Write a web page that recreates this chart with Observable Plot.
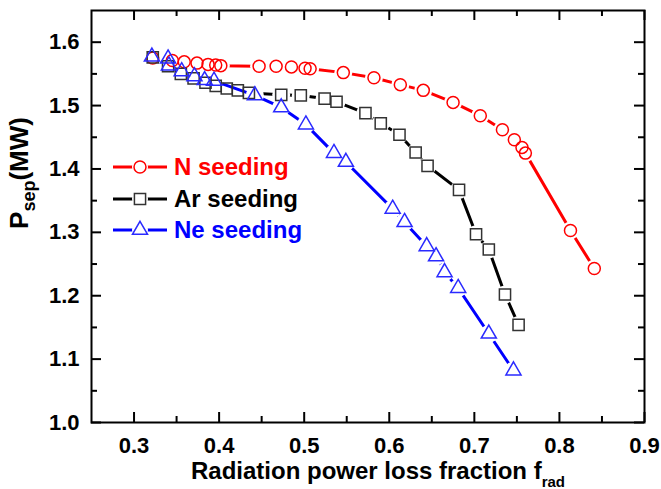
<!DOCTYPE html>
<html><head><meta charset="utf-8">
<script src="https://cdn.jsdelivr.net/npm/d3@7"></script>
<script src="https://cdn.jsdelivr.net/npm/@observablehq/plot@0.6"></script>
<style>body{margin:0;background:#fff}</style>
</head><body><div id="chart"></div>
<script>
// ---- data ----
const nX  = [0.322,0.345,0.359,0.374,0.387,0.396,0.402,0.447,0.467,0.485,0.501,0.507,0.546,0.582,0.613,0.640,0.675,0.707,0.733,0.747,0.756,0.760,0.813,0.841];
const nY  = [1.575,1.571,1.569,1.567,1.565,1.564,1.563,1.562,1.562,1.561,1.559,1.558,1.552,1.544,1.533,1.524,1.505,1.484,1.462,1.446,1.434,1.425,1.303,1.243];
const arX = [0.322,0.340,0.355,0.370,0.384,0.396,0.409,0.422,0.435,0.473,0.496,0.524,0.538,0.572,0.590,0.612,0.631,0.645,0.682,0.702,0.717,0.736,0.752];
const arY = [1.576,1.562,1.550,1.543,1.536,1.531,1.527,1.524,1.520,1.517,1.516,1.511,1.506,1.488,1.472,1.454,1.426,1.405,1.367,1.297,1.273,1.202,1.154];
const neX = [0.321,0.340,0.341,0.356,0.371,0.383,0.394,0.442,0.473,0.502,0.535,0.549,0.604,0.618,0.644,0.655,0.665,0.681,0.717,0.746];
const neY = [1.577,1.574,1.563,1.554,1.546,1.540,1.539,1.516,1.497,1.470,1.425,1.411,1.337,1.316,1.278,1.262,1.237,1.212,1.140,1.082];
const seriesNames = ["N seeding","Ar seeding","Ne seeding"];
const xMajor = [0.3,0.4,0.5,0.6,0.7,0.8,0.9];
const xMinor = [0.35,0.45,0.55,0.65,0.75,0.85];
const yMajor = [1.0,1.1,1.2,1.3,1.4,1.5,1.6];
const yMinor = [1.05,1.15,1.25,1.35,1.45,1.55];

// ---- layout / style ----
const W = 661, H = 489, mL = 91, mR = 17, mT = 10, mB = 67;
const innerW = W - mL - mR, innerH = H - mT - mB;
const FONT = "'Liberation Sans', Arial, Helvetica, sans-serif";
const styles = [
  {line:"#ff0000", stroke:"#ff0000", symbol:"circle",   r:6.0, d3sym:d3.symbolCircle},
  {line:"#000000", stroke:"#333333", symbol:"square",   r:6.3, d3sym:d3.symbolSquare},
  {line:"#0000ff", stroke:"#2a2aff", symbol:"triangle", r:5.6, d3sym:d3.symbolTriangle}
];
const series = [[nX,nY],[arX,arY],[neX,neY]].map(([xs,ys],k) => ({
  name: seriesNames[k], rows: xs.map((x,i)=>({x, y: ys[i]})), ...styles[k]
}));

const marks = [];
for (const s of series) {
  marks.push(Plot.line(s.rows, {x:"x", y:"y", stroke:s.line, strokeWidth:3}));
  marks.push(Plot.dot(s.rows, {x:"x", y:"y", r:9, fill:"white", stroke:"none"}));
}
for (const s of series) {
  marks.push(Plot.dot(s.rows, {x:"x", y:"y", r:s.r, symbol:s.symbol, fill:"none", stroke:s.stroke, strokeWidth:1.5}));
}
const tk = {stroke:"black", strokeWidth:2};
marks.push(
  Plot.ruleX(xMajor, {...tk, insetTop: innerH - 10}),
  Plot.ruleX(xMajor, {...tk, insetBottom: innerH - 10}),
  Plot.ruleX(xMinor, {...tk, insetTop: innerH - 6}),
  Plot.ruleX(xMinor, {...tk, insetBottom: innerH - 6}),
  Plot.ruleY(yMajor, {...tk, insetRight: innerW - 10}),
  Plot.ruleY(yMajor, {...tk, insetLeft: innerW - 10}),
  Plot.ruleY(yMinor, {...tk, insetRight: innerW - 6}),
  Plot.ruleY(yMinor, {...tk, insetLeft: innerW - 6}),
  Plot.frame({stroke:"black", strokeWidth:2}),
  Plot.axisX({ticks:xMajor, tickSize:0, tickPadding:15, tickFormat:".1f", label:null}),
  Plot.axisY({ticks:yMajor, tickSize:0, tickPadding:12, tickFormat:".1f", label:null})
);

const plot = Plot.plot({
  width: W, height: H,
  marginLeft: mL, marginRight: mR, marginTop: mT, marginBottom: mB,
  x: {domain:[0.25, 0.9]},
  y: {domain:[1.0, 1.65]},
  style: {fontFamily: FONT, fontSize: "22px", fontWeight: "bold", color: "black", background: "white", overflow: "visible"},
  marks
});
document.getElementById("chart").appendChild(plot);

// ---- legend and axis titles ----
const svg = d3.select(plot);
const leg = svg.append("g").attr("font-family", FONT).attr("font-weight", "bold");
const rowY = [167, 199, 230];
series.forEach((s, k) => {
  const y = rowY[k];
  leg.append("line").attr("x1", 113).attr("x2", 167).attr("y1", y).attr("y2", y)
    .attr("stroke", s.line).attr("stroke-width", 3);
  leg.append("circle").attr("cx", 140).attr("cy", y).attr("r", 8).attr("fill", "white");
  leg.append("path").attr("transform", `translate(140,${y})`)
    .attr("d", d3.symbol(s.d3sym, Math.PI * s.r * s.r)())
    .attr("fill", "white").attr("stroke", s.stroke).attr("stroke-width", 1.5);
  leg.append("text").attr("x", 174).attr("y", y).attr("dy", "0.35em")
    .attr("text-anchor", "start")
    .attr("font-size", 24).attr("fill", s.line).text(s.name);
});

const xt = svg.append("text").attr("x", 378).attr("y", 479).attr("text-anchor", "middle")
  .attr("font-family", FONT).attr("font-weight", "bold").attr("font-size", 24).attr("fill", "black");
xt.append("tspan").text("Radiation power loss fraction f");
xt.append("tspan").attr("font-size", 15).attr("dy", 8).text("rad");

const yt = svg.append("text").attr("transform", "translate(28,173) rotate(-90)").attr("text-anchor", "middle")
  .attr("font-family", FONT).attr("font-weight", "bold").attr("font-size", 26).attr("fill", "black");
yt.append("tspan").text("P");
yt.append("tspan").attr("font-size", 18).attr("dy", 7).text("sep");
yt.append("tspan").attr("dy", -7).text("(MW)");
</script>
</body></html>
